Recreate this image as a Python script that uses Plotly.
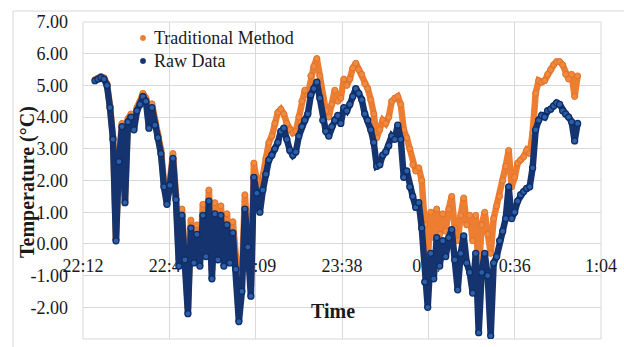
import pandas as pd
import plotly.graph_objects as go

# Series labels
SERIES_NAMES = ["Traditional Method", "Raw Data"]

# One reading per minute, starting 22:16
START_TIME = "2019-01-01 22:16"

RAW_DATA = [
    5.15, 5.2, 5.25, 5.2, 5.0, 4.3, 3.3, 0.1, 2.6, 3.7,
    1.3, 3.85, 4.0, 3.6, 4.2, 4.4, 4.65, 4.5, 3.65, 4.3,
    3.75, 3.35, 2.85, 1.8, 1.25, 1.85, 2.7, 1.4, -0.7, 0.9,
    -0.5, -2.2, 0.5, -0.6, 0.3, -0.7, 0.9, -0.4, 1.35, -1.1,
    0.95, -0.5, 0.9, -0.7, 0.6, -0.6, 0.35, -0.8, -2.45, -1.5,
    1.1, -0.1, -1.65, 2.1, 1.6, 1.0, 1.7, 2.2, 2.65, 2.8,
    3.0, 3.2, 3.55, 3.65, 3.3, 2.95, 2.8, 2.9, 3.4, 3.7,
    3.9, 4.1, 4.7, 4.9, 5.1, 4.6, 3.9, 3.55, 3.4, 3.7,
    3.9, 4.05, 3.8, 4.3, 4.2, 4.4, 4.65, 4.9, 4.75, 4.55,
    4.1, 3.9, 3.6, 3.2, 2.45, 2.5, 2.8, 2.9, 3.1, 3.4,
    3.3, 3.75, 3.3, 2.1, 2.3, 1.8, 1.5, 1.15, 1.3, 0.5,
    -1.2, -2.0, -0.3, -1.1, 0.2, -0.7, 0.1, -0.4, 0.2, 0.45,
    -0.5, -1.45, -0.3, 0.25, -0.6, -0.9, -1.55, -0.3, -2.8, -0.9,
    -0.3, -1.0, -2.9, -0.6, -0.4, 0.1, 0.4, 0.8, 1.8, 0.8,
    1.0, 1.35, 1.55, 1.65, 1.75, 1.8, 2.4, 3.6, 3.9, 4.05,
    4.0, 4.2, 4.25, 4.35, 4.45, 4.4, 4.2, 4.1, 4.0, 3.85,
    3.25, 3.8,
]

TRADITIONAL = [
    5.18, 5.23, 5.28, 5.24, 5.05, 4.36, 3.38, 0.15, 2.7, 3.8,
    1.4, 3.95, 4.1, 3.7, 4.3, 4.5, 4.75, 4.6, 3.75, 4.42,
    3.87, 3.47, 2.98, 1.95, 1.4, 2.0, 2.85, 1.55, -0.5, 1.1,
    -0.3, -2.0, 0.75, -0.3, 0.6, -0.4, 1.25, 0.0, 1.7, -0.8,
    1.3, -0.1, 1.2, -0.3, 0.95, -0.2, 0.7, -0.4, -2.1, -1.1,
    1.55, 0.3, -1.3, 2.55, 2.0, 1.4, 2.15, 2.7, 3.2, 3.4,
    3.8, 4.15, 4.25, 4.1, 3.8, 3.6, 3.5, 3.55, 4.0, 4.5,
    4.85, 4.7, 5.3, 5.6, 5.85, 5.3, 4.6, 4.2, 4.0, 4.4,
    4.85, 4.5, 4.6, 5.2, 5.0, 5.2, 5.55, 5.7, 5.5, 5.35,
    5.05, 4.9, 4.55, 4.1, 3.35, 3.6, 3.9, 3.8, 4.0, 4.5,
    4.6, 4.65, 4.4, 3.6, 3.35, 3.0, 2.5, 2.3, 2.4, 2.0,
    0.6, -0.5, 1.0, 0.2, 1.1, 0.3, 0.95, 0.4, 1.1, 1.5,
    0.5, 0.1, 0.9, 1.45, 0.6, 0.9, 0.1, 0.9, -0.9, 0.6,
    1.0, 0.3, -0.3, 0.8, 1.2, 1.5, 2.0, 2.45, 2.95, 1.8,
    2.1, 2.55, 2.65, 2.75, 2.95, 2.85, 3.5, 4.75, 5.15, 5.1,
    5.15, 5.35, 5.5, 5.65, 5.75, 5.75, 5.65, 5.35, 5.2, 5.35,
    4.65, 5.3,
]

# Time axis ticks (every 0.02 day)
X_TICK_VALUES = [
    "2019-01-01 22:12:00", "2019-01-01 22:40:48", "2019-01-01 23:09:36",
    "2019-01-01 23:38:24", "2019-01-02 00:07:12", "2019-01-02 00:36:00",
    "2019-01-02 01:04:48",
]
X_TICK_LABELS = ["22:12", "22:40", "23:09", "23:38", "0:07", "0:36", "1:04"]

Y_TICK_VALUES = [-3, -2, -1, 0, 1, 2, 3, 4, 5, 6, 7]
Y_TICK_LABELS = ["-3.00", "-2.00", "-1.00", "0.00", "1.00", "2.00",
                 "3.00", "4.00", "5.00", "6.00", "7.00"]

times = pd.date_range(START_TIME, periods=len(RAW_DATA), freq="min")

FONT = "Liberation Serif"
TEXT_COLOR = "#1a1a1a"
GRID = "#d9d9d9"
ORANGE = "#ED7D31"
NAVY = "#15346F"

fig = go.Figure()

fig.add_trace(go.Scatter(
    x=times, y=TRADITIONAL, name=SERIES_NAMES[0], mode="lines+markers",
    line=dict(color=ORANGE, width=6.5),
    marker=dict(size=6, color="#F08A3E", line=dict(color="#E0712A", width=1)),
    showlegend=False,
))
fig.add_trace(go.Scatter(
    x=times, y=RAW_DATA, name=SERIES_NAMES[1], mode="lines+markers",
    line=dict(color=NAVY, width=6.5),
    marker=dict(size=6, color="#2D5FA8", line=dict(color="#0E2D66", width=1.3)),
    showlegend=False,
))

L, R, T, B = 83, 23, 22, 8
W, H = 624, 347
pw, ph = W - L - R, H - T - B


def px_x(x):
    return (x - L) / pw


def px_y(y):
    return (H - B - y) / ph


shapes = [
    # plot frame
    dict(type="rect", xref="paper", yref="paper", x0=0, x1=1, y0=0, y1=1,
         line=dict(color=GRID, width=1), layer="below"),
    # chart border
    dict(type="rect", xref="paper", yref="paper",
         x0=px_x(13), x1=px_x(640), y0=px_y(360), y1=px_y(11),
         line=dict(color=GRID, width=1), layer="below"),
]

annotations = []
legend_colors = [ORANGE, NAVY]
legend_rows = [38, 61]
for name, color, row in zip(SERIES_NAMES, legend_colors, legend_rows):
    shapes.append(dict(
        type="circle", xref="paper", yref="paper",
        xsizemode="pixel", ysizemode="pixel",
        xanchor=px_x(143), yanchor=px_y(row),
        x0=-2.7, x1=2.7, y0=-2.7, y1=2.7,
        fillcolor=color, line=dict(color=color, width=0.5),
    ))
    annotations.append(dict(
        text=name, xref="paper", yref="paper", x=px_x(152), y=px_y(row),
        xanchor="left", yanchor="middle", showarrow=False,
        font=dict(family=FONT, size=18, color=TEXT_COLOR),
    ))

annotations.append(dict(
    text="Time", xref="paper", yref="paper", x=px_x(333), y=px_y(311),
    xanchor="center", yanchor="middle", showarrow=False,
    font=dict(family=FONT, size=20, color=TEXT_COLOR, weight="bold"),
))
annotations.append(dict(
    text="Temperature (°C)", xref="paper", yref="paper",
    x=px_x(27), y=px_y(182), xanchor="center", yanchor="middle",
    textangle=-90, showarrow=False,
    font=dict(family=FONT, size=20, color=TEXT_COLOR, weight="bold"),
))

fig.update_layout(
    width=W, height=H, autosize=False,
    margin=dict(l=L, r=R, t=T, b=B, pad=0),
    paper_bgcolor="white", plot_bgcolor="white",
    showlegend=False,
    shapes=shapes, annotations=annotations,
    xaxis=dict(
        type="date", range=[X_TICK_VALUES[0], X_TICK_VALUES[-1]],
        tickmode="array", tickvals=X_TICK_VALUES, ticktext=X_TICK_LABELS,
        showgrid=True, gridcolor=GRID, gridwidth=1,
        zeroline=False, showline=False, ticks="",
        anchor="free", position=0.3, layer="below traces",
        ticklabelstandoff=9,
        tickfont=dict(family=FONT, size=18, color=TEXT_COLOR),
    ),
    yaxis=dict(
        range=[-3, 7], tickmode="array",
        tickvals=Y_TICK_VALUES, ticktext=Y_TICK_LABELS,
        showgrid=True, gridcolor=GRID, gridwidth=1,
        zeroline=False, showline=False, ticks="",
        ticklabelstandoff=14,
        tickfont=dict(family=FONT, size=18, color=TEXT_COLOR),
    ),
)

fig.write_html("out.html")
